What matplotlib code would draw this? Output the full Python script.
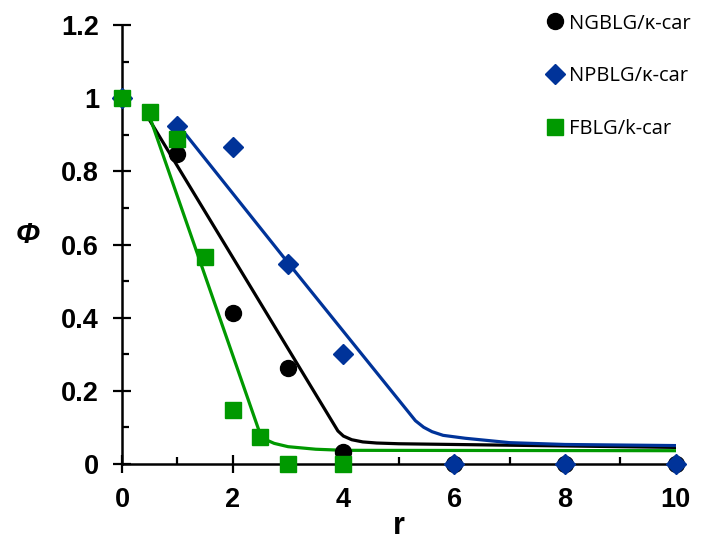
import matplotlib.pyplot as plt
from matplotlib.ticker import MultipleLocator

# measured points
r_ngblg = [0, 1, 2, 3, 4, 6, 8, 10]
phi_ngblg = [1.0, 0.847, 0.413, 0.262, 0.033, 0, 0, 0]
r_npblg = [0, 1, 2, 3, 4, 6, 8, 10]
phi_npblg = [1.0, 0.923, 0.866, 0.546, 0.300, 0, 0, 0]
r_fblg = [0, 0.5, 1, 1.5, 2, 2.5, 3, 4]
phi_fblg = [1.0, 0.962, 0.888, 0.566, 0.148, 0.074, 0, 0]

# fitted curves
fit_r_ngblg = [0.5, 3.9, 4.0, 4.15, 4.35, 4.6, 5.0, 6.0, 10]
fit_ngblg = [0.94, 0.09, 0.076, 0.066, 0.06, 0.057, 0.055, 0.053, 0.045]
fit_r_npblg = [1.0, 3.0, 5.3, 5.45, 5.6, 5.8, 6.2, 7.0, 8.0, 10]
fit_npblg = [0.93, 0.55, 0.118, 0.1, 0.088, 0.078, 0.07, 0.058, 0.053, 0.05]
fit_r_fblg = [0.5, 2.5, 2.6, 2.75, 3.0, 3.5, 4.0, 10]
fit_fblg = [0.95, 0.08, 0.066, 0.056, 0.047, 0.04, 0.037, 0.036]

BLACK = '#000000'
BLUE = '#003399'
GREEN = '#009900'

plt.rcParams['font.family'] = ['Liberation Sans', 'DejaVu Sans']

fig = plt.figure(figsize=(7.09, 5.47), dpi=100)
ax = fig.add_axes([0.172, 0.152, 0.781, 0.802])

ax.plot(fit_r_ngblg, fit_ngblg, color=BLACK, lw=2.3, zorder=2)
ax.plot(fit_r_npblg, fit_npblg, color=BLUE, lw=2.3, zorder=2)
ax.plot(fit_r_fblg, fit_fblg, color=GREEN, lw=2.3, zorder=2)

ax.plot(r_ngblg, phi_ngblg, 'o', color=BLACK, ms=11.5, ls='none',
        label='NGBLG/κ-car', clip_on=False, zorder=3)
ax.plot(r_npblg, phi_npblg, 'D', color=BLUE, ms=10, ls='none',
        label='NPBLG/κ-car', clip_on=False, zorder=4)
ax.plot(r_fblg, phi_fblg, 's', color=GREEN, ms=11.5, ls='none',
        label='FBLG/k-car', clip_on=False, zorder=5)

ax.set_xlim(0, 10)
ax.set_ylim(0, 1.2)
ax.xaxis.set_major_locator(MultipleLocator(2))
ax.xaxis.set_minor_locator(MultipleLocator(1))
ax.yaxis.set_minor_locator(MultipleLocator(0.1))
ax.set_yticks([0, 0.2, 0.4, 0.6, 0.8, 1.0, 1.2])
ax.set_yticklabels(['0', '0.2', '0.4', '0.6', '0.8', '1', '1.2'])

for s in ['top', 'right']:
    ax.spines[s].set_visible(False)
for s in ['left', 'bottom']:
    ax.spines[s].set_linewidth(1.8)

ax.tick_params(which='major', direction='inout', length=13, width=1.6,
               labelsize=19.5, pad=10)
ax.tick_params(which='minor', direction='in', length=5, width=1.6)
for lab in ax.get_xticklabels() + ax.get_yticklabels():
    lab.set_fontweight('bold')

ax.set_xlabel('r', fontsize=22, fontweight='bold')
ax.xaxis.set_label_coords(0.5, -0.108)
ax.set_ylabel('Φ', fontsize=21, fontweight='bold', style='italic',
              rotation=0)
ax.yaxis.set_label_coords(-0.17, 0.49)

fig.legend(loc='upper left', bbox_to_anchor=(0.752, 0.99), frameon=False,
           prop={'family': 'Open Sans', 'size': 14.5}, handletextpad=0.0,
           labelspacing=1.62, handlelength=1.4, borderaxespad=0)

fig.savefig('out.png', dpi=100)
